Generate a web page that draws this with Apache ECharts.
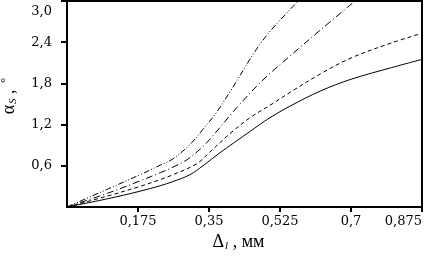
<!DOCTYPE html>
<html>
<head>
<meta charset="utf-8">
<script src="https://cdn.jsdelivr.net/npm/echarts@6/dist/echarts.min.js"></script>
<style>
  html, body { margin: 0; padding: 0; background: #fff; }
  #chart { width: 427px; height: 261px; }
</style>
</head>
<body>
<div id="chart"></div>
<script>
// Δl, мм  vs  αS, °  — four curves
const solidData = [[0, 0], [0.1, 0.12], [0.18, 0.23], [0.23, 0.31], [0.261, 0.37], [0.303, 0.47], [0.335, 0.6],
  [0.377, 0.79], [0.451, 1.1], [0.5, 1.3], [0.55, 1.47], [0.625, 1.69], [0.7, 1.86], [0.8, 2.03], [0.875, 2.15]];
const dashedData = [[0, 0], [0.1, 0.16], [0.18, 0.3], [0.23, 0.4], [0.261, 0.47], [0.32, 0.63], [0.352, 0.8],
  [0.402, 1.07], [0.451, 1.3], [0.5, 1.48], [0.55, 1.67], [0.625, 1.94], [0.7, 2.17], [0.8, 2.39], [0.875, 2.53]];
const dashDotData = [[0, 0], [0.1, 0.2], [0.18, 0.38], [0.23, 0.5], [0.261, 0.58], [0.296, 0.69], [0.335, 0.88],
  [0.36, 1.04], [0.419, 1.45], [0.483, 1.85], [0.55, 2.2], [0.625, 2.58], [0.71, 3.0]];
const dashDotDotData = [[0, 0], [0.1, 0.26], [0.18, 0.47], [0.23, 0.61], [0.261, 0.7], [0.303, 0.91], [0.335, 1.13],
  [0.37, 1.39], [0.402, 1.68], [0.483, 2.43], [0.57, 3.0]];

const xTickLabels = ['0', '0,175', '0,35', '0,525', '0,7', '0,875'];
const yTickLabels = ['0', '0,6', '1,2', '1,8', '2,4', '3,0'];

const font = 'Liberation Serif';
const tickFont = 'DejaVu Serif';

const chart = echarts.init(document.getElementById('chart'), null, { renderer: 'canvas' });

function line(data, dash) {
  return {
    type: 'line',
    data: data,
    smooth: 0.35,
    symbol: 'none',
    lineStyle: { color: '#000', width: 1, type: dash }
  };
}

const option = {
  animation: false,
  backgroundColor: '#fff',
  grid: {
    left: 67, right: 5, top: 1, bottom: 54,
    containLabel: false,
    outerBoundsMode: 'none',
    show: true, borderColor: '#000', borderWidth: 2
  },
  xAxis: {
    type: 'value',
    min: 0, max: 0.875, interval: 0.175,
    name: '{a|Δ}{s|l}{a| , мм}',
    nameLocation: 'middle',
    nameGap: 21,
    nameTextStyle: {
      padding: [0, 12, 0, 0],
      rich: {
        a: { fontFamily: font, fontSize: 18, color: '#000' },
        s: { fontFamily: font, fontSize: 11, fontStyle: 'italic', color: '#000', padding: [9, 0, 0, 1] }
      }
    },
    axisLine: { lineStyle: { color: '#000', width: 2 } },
    axisTick: { length: 5, lineStyle: { color: '#000', width: 2 } },
    splitLine: { show: false },
    axisLabel: {
      showMinLabel: false,
      alignMaxLabel: 'right',
      margin: 8,
      fontFamily: tickFont, fontSize: 13, color: '#000',
      formatter: v => xTickLabels[Math.round(v / 0.175)]
    }
  },
  yAxis: {
    type: 'value',
    min: 0, max: 3, interval: 0.6,
    name: '{a|α}{s|S}{a| , }{d|°}',
    nameLocation: 'middle',
    nameRotate: 90,
    nameGap: 47,
    nameTextStyle: {
      padding: [0, 0, 0, 16],
      rich: {
        a: { fontFamily: font, fontSize: 18, color: '#000' },
        s: { fontFamily: font, fontSize: 11, fontStyle: 'italic', color: '#000', padding: [8, 0, 0, 1] },
        d: { fontFamily: font, fontSize: 13, color: '#000', padding: [0, 0, 8, 2] }
      }
    },
    axisLine: { lineStyle: { color: '#000', width: 2 } },
    axisTick: { length: 6, lineStyle: { color: '#000', width: 2 } },
    splitLine: { show: false },
    axisLabel: {
      showMinLabel: false,
      margin: 15,
      fontFamily: tickFont, fontSize: 13, color: '#000',
      formatter: v => {
        const i = Math.round(v / 0.6);
        return i === 5 ? '{t|' + yTickLabels[i] + '}' : yTickLabels[i];
      },
      rich: {
        t: { fontFamily: tickFont, fontSize: 13, color: '#000', padding: [22, 0, 0, 0] }
      }
    }
  },
  series: [
    line(solidData, 'solid'),
    line(dashedData, [4, 3]),
    line(dashDotData, [7, 3, 1, 3]),
    line(dashDotDotData, [6, 2, 1, 2, 1, 2])
  ]
};

chart.setOption(option);
</script>
</body>
</html>
